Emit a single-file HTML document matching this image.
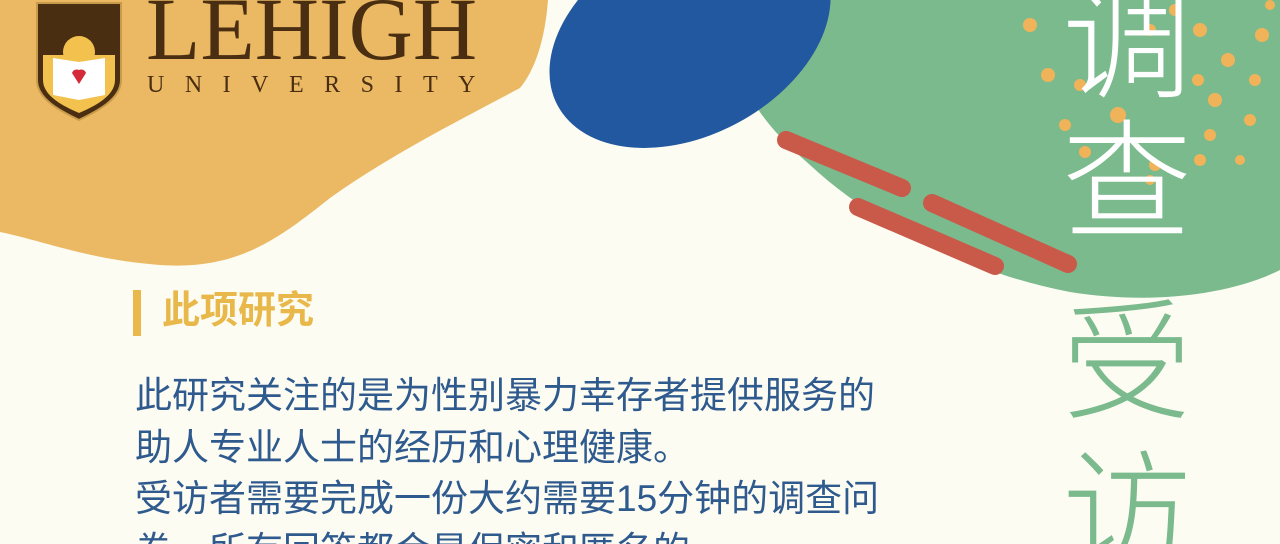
<!DOCTYPE html>
<html><head><meta charset="utf-8"><style>
html,body{margin:0;padding:0;width:1280px;height:544px;overflow:hidden;background:#fdfcf3}
.t{position:absolute;white-space:nowrap;font-family:"Liberation Sans","Noto Sans CJK SC",sans-serif}
</style></head><body>
<div style="position:relative;width:1280px;height:544px;overflow:hidden">
<svg width="1280" height="544" style="position:absolute;left:0;top:0">
<path d="M0,0 L548,0 C545,40 535,70 520,88 C460,120 390,155 330,198 C275,242 235,270 160,265 C90,260 40,240 0,232 Z" fill="#ebb964"/>
<path d="M790,0 L1280,0 L1280,270 C1230,295 1150,305 1070,292 C980,275 880,230 810,165 C770,130 745,100 745,70 C745,40 770,10 790,0 Z" fill="#7bba8d"/>
<ellipse cx="690" cy="35" rx="150" ry="100" transform="rotate(-28 690 35)" fill="#22589f"/>
<g stroke="#c95a4a" stroke-width="18" stroke-linecap="round">
<line x1="786" y1="140" x2="902" y2="188"/>
<line x1="858" y1="207" x2="995" y2="266"/>
<line x1="932" y1="203" x2="1068" y2="264"/>
</g>
<g fill="#f0b35a">
<circle cx="1030" cy="25" r="7"/><circle cx="1048" cy="75" r="7"/><circle cx="1065" cy="125" r="6"/><circle cx="1080" cy="85" r="6"/><circle cx="1118" cy="115" r="8"/><circle cx="1085" cy="152" r="6"/><circle cx="1150" cy="30" r="6"/><circle cx="1200" cy="30" r="7"/><circle cx="1198" cy="80" r="6"/><circle cx="1228" cy="60" r="7"/><circle cx="1215" cy="100" r="7"/><circle cx="1255" cy="80" r="6"/><circle cx="1262" cy="35" r="7"/><circle cx="1210" cy="135" r="6"/><circle cx="1250" cy="120" r="6"/><circle cx="1200" cy="160" r="6"/><circle cx="1240" cy="160" r="5"/><circle cx="1155" cy="165" r="6"/><circle cx="1175" cy="10" r="6"/><circle cx="1270" cy="5" r="5"/><circle cx="1150" cy="180" r="5"/>
</g>
</svg>
<svg width="90" height="125" style="position:absolute;top:0;left:35px">
<path d="M2,3 L86,3 L86,80 C86,100 60,112 44,120 C28,112 2,100 2,80 Z" fill="#4a2e12" stroke="#c89b4a" stroke-width="2"/>
<path d="M8,55 L80,55 L80,80 C80,96 60,106 44,113 C28,106 8,96 8,80 Z" fill="#f2c14e"/>
<circle cx="44" cy="52" r="16" fill="#f2c14e"/>
<path d="M18,58 L44,62 L70,58 L70,95 L44,100 L18,95 Z" fill="#fff"/>
<path d="M37,73 a5,5 0 0 1 7,-3 a5,5 0 0 1 7,3 L44,84 Z" fill="#d42a3a"/>
</svg>
<div class="t" style="left:146px;top:-14px;font-family:'Liberation Serif',serif;font-size:89px;line-height:1;color:#4a2e12">LEHIGH</div>
<div class="t" style="left:147px;top:72px;font-family:'Liberation Serif',serif;font-size:24px;color:#4a2e12;letter-spacing:20.5px">UNIVERSITY</div>
<div class="t" style="left:1062px;top:-22px;font-size:130px;line-height:130px;color:#fff;font-weight:300">调</div>
<div class="t" style="left:1062px;top:118px;font-size:130px;line-height:130px;color:#fff;font-weight:300">查</div>
<div class="t" style="left:1062px;top:298px;font-size:130px;line-height:130px;color:#7bba8d;font-weight:300">受</div>
<div class="t" style="left:1062px;top:448px;font-size:130px;line-height:130px;color:#7bba8d;font-weight:300">访</div>
<div style="position:absolute;left:133px;top:290px;width:8px;height:46px;background:#e8b84a"></div>
<div class="t" style="left:162px;top:286px;font-size:38px;line-height:50px;font-weight:bold;color:#e8b84a">此项研究</div>
<div class="t" style="left:135px;top:370px;font-size:37px;line-height:51.5px;color:#2f5a8e">此研究关注的是为性别暴力幸存者提供服务的<br>助人专业人士的经历和心理健康。<br>受访者需要完成一份大约需要15分钟的调查问<br>卷，所有回答都会是保密和匿名的。</div>
</div>
</body></html>
